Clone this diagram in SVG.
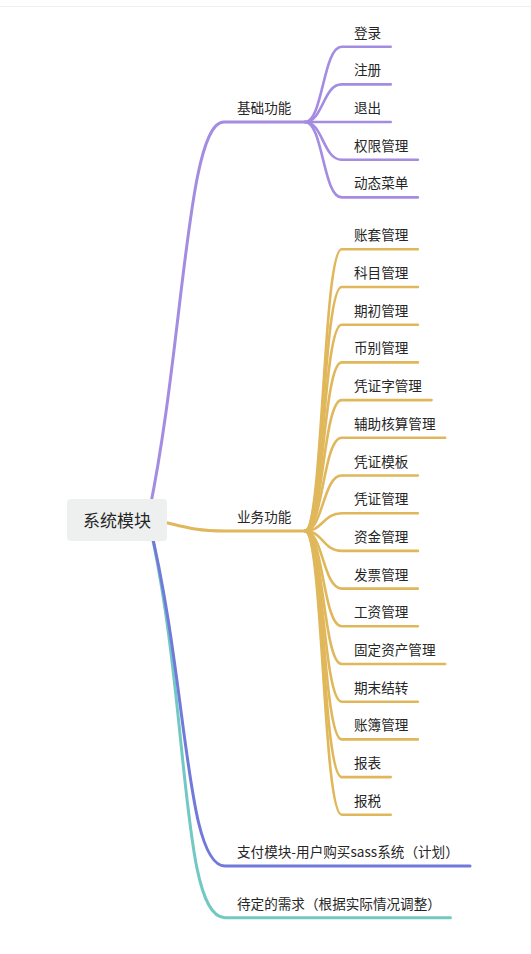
<svg xmlns="http://www.w3.org/2000/svg" width="531" height="954" viewBox="0 0 531 954">
<style>
  .bg { fill: #ffffff; }
  .conn { fill: none; stroke-linecap: round; stroke-linejoin: round; }
  .main { stroke-width: 3; }
  .sub { stroke-width: 2.6; }
  .p { stroke: #a48ce1; }
  .y { stroke: #e0b75a; }
  .b { stroke: #727ad9; }
  .t { stroke: #72c9c4; }
  .lbl { font-family: "Noto Sans CJK SC", "Noto Sans", sans-serif; font-size: 13.6px; fill: #262626; }
  .root-box { fill: #eef0f0; }
  .root-txt { font-family: "Noto Sans CJK SC", "Noto Sans", sans-serif; font-size: 17px; fill: #262626; text-anchor: middle; }
</style>
<rect class="bg" x="0" y="0" width="531" height="954"/>
<line x1="0" y1="6.5" x2="531" y2="6.5" stroke="#f0f0f0" stroke-width="1"/>
<g id="connectors">
  <!-- main branches -->
  <path class="conn main p" d="M 147.5 520 C 184 350, 186 122, 224 122 L 305 122"/>
  <path class="conn main y" d="M 150 519 C 180 525, 190 531, 225 531 L 305 531"/>
  <path class="conn main t" d="M 148.5 520 C 190 700, 180 917.7, 225 917.7 L 450.5 917.7"/>
  <path class="conn main b" d="M 148.5 520 C 188 680, 185 866, 225 866 L 470 866"/>
  <!-- 基础功能 children -->
  <path class="conn sub p" d="M 305 122 C 323 122, 323 46.7, 341.7 46.7 L 390.7 46.7"/>
  <path class="conn sub p" d="M 305 122 C 323 122, 323 84.4, 341.7 84.4 L 390.7 84.4"/>
  <path class="conn sub p" d="M 305 122 L 390.7 122"/>
  <path class="conn sub p" d="M 305 122 C 323 122, 323 159.7, 341.7 159.7 L 417.9 159.7"/>
  <path class="conn sub p" d="M 305 122 C 323 122, 323 197.4, 341.7 197.4 L 417.9 197.4"/>
  <!-- 业务功能 children -->
  <path class="conn sub y" d="M 305 531 C 323 531, 323 249.3, 341.7 249.3 L 417.9 249.3"/>
  <path class="conn sub y" d="M 305 531 C 323 531, 323 287, 341.7 287 L 417.9 287"/>
  <path class="conn sub y" d="M 305 531 C 323 531, 323 324.7, 341.7 324.7 L 417.9 324.7"/>
  <path class="conn sub y" d="M 305 531 C 323 531, 323 362.4, 341.7 362.4 L 417.9 362.4"/>
  <path class="conn sub y" d="M 305 531 C 323 531, 323 400.1, 341.7 400.1 L 431.5 400.1"/>
  <path class="conn sub y" d="M 305 531 C 323 531, 323 437.8, 341.7 437.8 L 445.1 437.8"/>
  <path class="conn sub y" d="M 305 531 C 323 531, 323 475.5, 341.7 475.5 L 417.9 475.5"/>
  <path class="conn sub y" d="M 305 531 C 323 531, 323 513.2, 341.7 513.2 L 417.9 513.2"/>
  <path class="conn sub y" d="M 305 531 C 323 531, 323 550.9, 341.7 550.9 L 417.9 550.9"/>
  <path class="conn sub y" d="M 305 531 C 323 531, 323 588.6, 341.7 588.6 L 417.9 588.6"/>
  <path class="conn sub y" d="M 305 531 C 323 531, 323 626.3, 341.7 626.3 L 417.9 626.3"/>
  <path class="conn sub y" d="M 305 531 C 323 531, 323 664, 341.7 664 L 445.1 664"/>
  <path class="conn sub y" d="M 305 531 C 323 531, 323 701.7, 341.7 701.7 L 417.9 701.7"/>
  <path class="conn sub y" d="M 305 531 C 323 531, 323 739.4, 341.7 739.4 L 417.9 739.4"/>
  <path class="conn sub y" d="M 305 531 C 323 531, 323 777.1, 341.7 777.1 L 390.7 777.1"/>
  <path class="conn sub y" d="M 305 531 C 323 531, 323 814.8, 341.7 814.8 L 390.7 814.8"/>
</g>
<g id="root">
  <rect class="root-box" x="67" y="499" width="100" height="42" rx="4"/>
  <text class="root-txt" x="117" y="527">系统模块</text>
</g>
<g id="n-jichu"><text class="lbl" x="237" y="113">基础功能</text></g>
<g id="n-denglu"><text class="lbl" x="354" y="37.7">登录</text></g>
<g id="n-zhuce"><text class="lbl" x="354" y="75.4">注册</text></g>
<g id="n-tuichu"><text class="lbl" x="354" y="113">退出</text></g>
<g id="n-quanxian"><text class="lbl" x="354" y="150.7">权限管理</text></g>
<g id="n-caidan"><text class="lbl" x="354" y="188.4">动态菜单</text></g>
<g id="n-yewu"><text class="lbl" x="237" y="522">业务功能</text></g>
<g id="n-zhangtao"><text class="lbl" x="354" y="240.3">账套管理</text></g>
<g id="n-kemu"><text class="lbl" x="354" y="278">科目管理</text></g>
<g id="n-qichu"><text class="lbl" x="354" y="315.7">期初管理</text></g>
<g id="n-bibie"><text class="lbl" x="354" y="353.4">币别管理</text></g>
<g id="n-pingzhengzi"><text class="lbl" x="354" y="391.1">凭证字管理</text></g>
<g id="n-fuzhu"><text class="lbl" x="354" y="428.8">辅助核算管理</text></g>
<g id="n-muban"><text class="lbl" x="354" y="466.5">凭证模板</text></g>
<g id="n-pingzheng"><text class="lbl" x="354" y="504.2">凭证管理</text></g>
<g id="n-zijin"><text class="lbl" x="354" y="541.9">资金管理</text></g>
<g id="n-fapiao"><text class="lbl" x="354" y="579.6">发票管理</text></g>
<g id="n-gongzi"><text class="lbl" x="354" y="617.3">工资管理</text></g>
<g id="n-guding"><text class="lbl" x="354" y="655">固定资产管理</text></g>
<g id="n-qimo"><text class="lbl" x="354" y="692.7">期末结转</text></g>
<g id="n-zhangbu"><text class="lbl" x="354" y="730.4">账簿管理</text></g>
<g id="n-baobiao"><text class="lbl" x="354" y="768.1">报表</text></g>
<g id="n-baoshui"><text class="lbl" x="354" y="805.8">报税</text></g>
<g id="n-zhifu"><text class="lbl" x="237" y="857">支付模块-用户购买sass系统（计划）</text></g>
<g id="n-daiding"><text class="lbl" x="237" y="908.5">待定的需求（根据实际情况调整）</text></g>
</svg>
